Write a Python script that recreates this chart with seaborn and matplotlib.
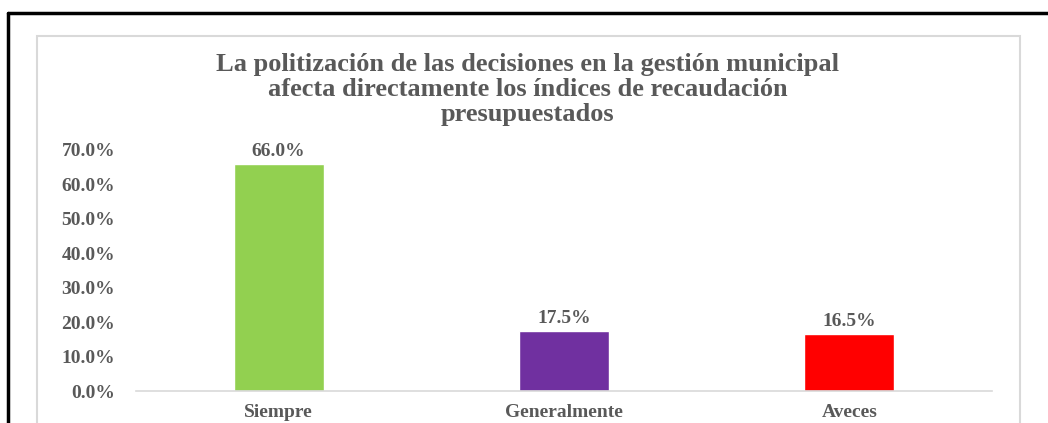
import seaborn as sns
import pandas as pd
import matplotlib.pyplot as plt
from matplotlib.lines import Line2D
from matplotlib.patches import Rectangle
from matplotlib.ticker import PercentFormatter

categories = ['Siempre', 'Generalmente', 'Aveces']
values = [66.0, 17.5, 16.5]
colors = ['#92D050', '#7030A0', '#FF0000']
title = ('La politización de las decisiones en la gestión municipal\n'
         'afecta directamente los índices de recaudación\n'
         'presupuestados')

data = pd.DataFrame({'Respuesta': categories, 'Porcentaje': values})

sns.set_style('white')
plt.rcParams['font.family'] = ['Liberation Serif', 'DejaVu Serif']
txt = '#595959'
W, H = 1048, 423

fig = plt.figure(figsize=(10.48, 4.23), dpi=100)
ax = fig.add_axes([136 / W, 1 - 391 / H, 856 / W, (391 - 150) / H])

sns.barplot(x='Respuesta', y='Porcentaje', data=data, hue='Respuesta',
            palette=colors, width=0.315, legend=False, ax=ax, saturation=1)

ax.set_ylim(0, 70)
ax.set_yticks(range(0, 71, 10))
ax.yaxis.set_major_formatter(PercentFormatter(decimals=1))
ax.set_xlabel('')
ax.set_ylabel('')
for s in ['top', 'right', 'left']:
    ax.spines[s].set_visible(False)
ax.spines['bottom'].set_color('#D9D9D9')
ax.spines['bottom'].set_linewidth(1.2)
ax.tick_params(axis='both', length=0, labelsize=14, labelcolor=txt)
ax.tick_params(axis='y', pad=15)
ax.tick_params(axis='x', pad=9)
for lbl in ax.get_xticklabels() + ax.get_yticklabels():
    lbl.set_fontweight('bold')

for p, v in zip(ax.patches, values):
    ax.annotate('{0:.1f}%'.format(v), (p.get_x() + p.get_width() / 2, p.get_height()),
                xytext=(0, 3), textcoords='offset points', ha='center', va='bottom',
                fontsize=14, fontweight='bold', color=txt, annotation_clip=False)

fig.text(528 / W, 1 - 53 / H, title, ha='center', va='top', fontsize=19,
         fontweight='bold', color=txt, linespacing=1.12)

# frames
fig.patches.append(Rectangle((37 / W, -0.05), (1020 - 37) / W, 1.05 - 36 / H,
                             transform=fig.transFigure, fill=False,
                             edgecolor='#D9D9D9', linewidth=1.5))
fig.lines.append(Line2D([8 / W, 1], [1 - 13 / H, 1 - 13 / H],
                        transform=fig.transFigure, color='black', linewidth=2.5))
fig.lines.append(Line2D([8 / W, 8 / W], [0, 1 - 13 / H],
                        transform=fig.transFigure, color='black', linewidth=2.5))

fig.savefig('out.png', dpi=100)
